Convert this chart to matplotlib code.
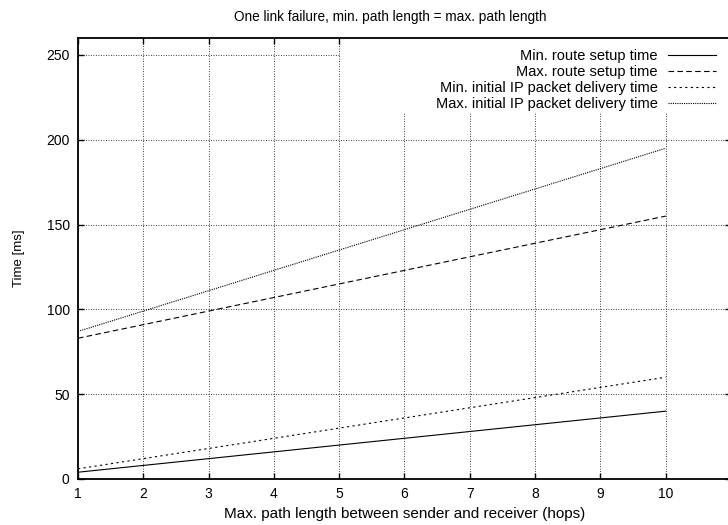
import matplotlib
matplotlib.use("Agg")
import matplotlib.pyplot as plt
from matplotlib.patches import Rectangle

plt.rcParams['font.family'] = ['Liberation Sans', 'DejaVu Sans']

hops = [1, 2, 3, 4, 5, 6, 7, 8, 9, 10]
min_route_setup = [4, 8, 12, 16, 20, 24, 28, 32, 36, 40]
max_route_setup = [83, 91, 99, 107, 115, 123, 131, 139, 147, 155]
min_ip_delivery = [6, 12, 18, 24, 30, 36, 42, 48, 54, 60]
max_ip_delivery = [87, 99, 111, 123, 135, 147, 159, 171, 183, 195]

labels = ["Min. route setup time", "Max. route setup time",
          "Min. initial IP packet delivery time", "Max. initial IP packet delivery time"]
xticks = [1, 2, 3, 4, 5, 6, 7, 8, 9, 10]
yticks = [0, 50, 100, 150, 200, 250]

W, H = 728, 525
fig = plt.figure(figsize=(W / 100, H / 100), dpi=100)
left, right, top, bottom = 78, 731, 38, 479
ax = fig.add_axes([left / W, (H - bottom) / H, (right - left) / W, (bottom - top) / H])

ax.set_xlim(1, 11)
ax.set_ylim(0, 260)

lw = 0.8
ax.plot(hops, min_route_setup, color='black', lw=lw, linestyle='-', label=labels[0])
ax.plot(hops, max_route_setup, color='black', lw=lw, linestyle=(0, (5, 3)), label=labels[1])
ax.plot(hops, min_ip_delivery, color='black', lw=lw, linestyle=(0, (2, 3)), label=labels[2])
ax.plot(hops, max_ip_delivery, color='black', lw=lw, linestyle=(0, (1, 1)), label=labels[3])

ax.set_xticks(xticks)
ax.set_yticks(yticks)
ax.grid(True, color='black', linestyle=(0, (1, 2)), linewidth=0.6)

# white area behind the key (masks grid like gnuplot)
mask = Rectangle(((341 - left) / (right - left), (bottom - 113) / (bottom - top)),
                 1.0, 1.0, transform=ax.transAxes, facecolor='white',
                 edgecolor='none', zorder=1.8)
ax.add_patch(mask)

ax.tick_params(direction='in', top=True, right=True, length=4, width=1,
               labelsize=10, pad=6, colors='black')
for s in ax.spines.values():
    s.set_linewidth(1.3)

ax.set_title("One link failure, min. path length = max. path length", fontsize=9.8, pad=12,
             x=(390 - left) / (right - left))
ax.set_xlabel("Max. path length between sender and receiver (hops)", fontsize=11, labelpad=4)
ax.set_ylabel("Time [ms]", fontsize=9.5, labelpad=15)

leg = ax.legend(loc='upper right', bbox_to_anchor=(716 / W, (H - 49) / H),
                bbox_transform=fig.transFigure, frameon=False, markerfirst=False,
                fontsize=10.5, handlelength=3.3, handletextpad=0.7,
                labelspacing=0.13, borderaxespad=0, borderpad=0)
for t in leg.get_texts():
    t.set_ha('right')
leg._legend_box.align = "right"

fig.savefig("out.png", dpi=100)
